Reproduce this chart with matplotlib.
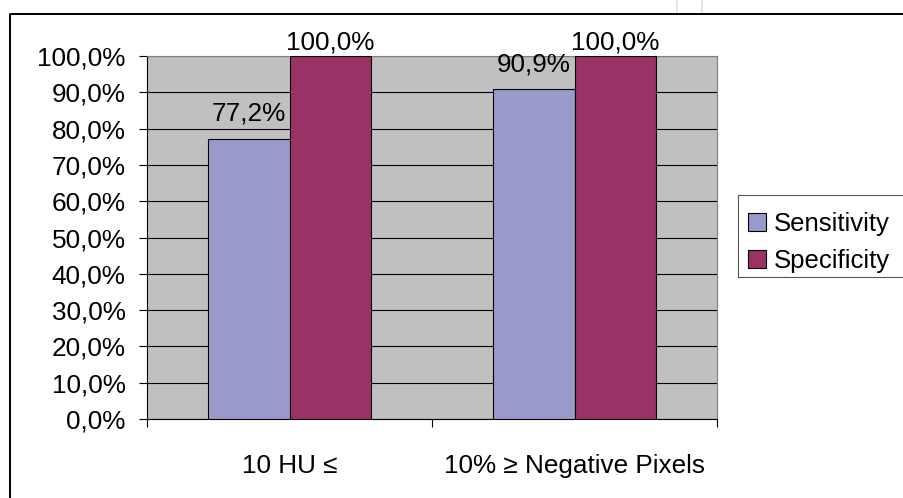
import numpy as np
import matplotlib
matplotlib.use("Agg")
import matplotlib.pyplot as plt
from matplotlib.patches import Patch, Rectangle
from matplotlib.lines import Line2D
from matplotlib.ticker import FixedLocator

plt.rcParams['font.family'] = ['Liberation Sans', 'DejaVu Sans']

categories = ['10 HU \u2264', '10% \u2265 Negative Pixels']
series_names = ['Sensitivity', 'Specificity']
sensitivity = [77.2, 90.9]
specificity = [100.0, 100.0]
y_ticks = [0, 10, 20, 30, 40, 50, 60, 70, 80, 90, 100]

W, H = 904, 498
FS = 18.8
LFS = 18.5
fig = plt.figure(figsize=(W / 100, H / 100), dpi=100)
ax = fig.add_axes([147 / W, 1 - 419 / H, 570 / W, 363 / H])

x = np.arange(len(categories))
bw = 0.286
colors = ['#9999CC', '#993366']
for i, (vals, col) in enumerate(zip([sensitivity, specificity], colors)):
    pos = x + (i - 0.5) * bw
    ax.bar(pos, vals, bw, color=col, edgecolor='black', linewidth=0.8, zorder=3)
    for px, v in zip(pos, vals):
        off = 7 if v >= 100 else 18
        ax.annotate(f"{v:.1f}%".replace('.', ','), (px, v), xytext=(0, off),
                    textcoords='offset pixels', ha='center', va='baseline',
                    fontsize=FS, zorder=5, annotation_clip=False)

ax.set_xlim(-0.5, len(categories) - 0.5)
ax.set_ylim(0, 100)
ax.set_facecolor('#C0C0C0')
ax.set_yticks(y_ticks)
ax.set_yticklabels([f"{v:.1f}%".replace('.', ',') for v in y_ticks])
ax.yaxis.grid(True, color='black', linewidth=0.8, zorder=1)
ax.set_axisbelow(True)

ax.set_xticks(x)
ax.set_xticklabels(categories)
ax.xaxis.set_minor_locator(FixedLocator(np.arange(len(categories) + 1) - 0.5))
ax.tick_params(axis='x', which='major', length=0, pad=25, labelsize=FS)
ax.tick_params(axis='x', which='minor', length=5.8, width=0.8, direction='out', color='black')
ax.tick_params(axis='y', which='major', length=5.8, width=0.8, direction='out', pad=9.5,
               labelsize=FS, color='black')

for s in ['left', 'bottom']:
    ax.spines[s].set_color('black')
    ax.spines[s].set_linewidth(0.8)
for s in ['top', 'right']:
    ax.spines[s].set_color('#808080')
    ax.spines[s].set_linewidth(0.8)

handles = [Patch(facecolor=c, edgecolor='black', linewidth=0.8) for c in colors]
fig.legend(handles, series_names, loc='upper left',
           bbox_to_anchor=(748 / W, 1 - 212 / H), frameon=False, fontsize=LFS,
           borderpad=0, handlelength=0.7, handleheight=0.7, handletextpad=0.3,
           labelspacing=0.51, borderaxespad=0)
fig.add_artist(Rectangle((738 / W, 1 - 277 / H), (910 - 738) / W, 82 / H,
                         transform=fig.transFigure, fill=False, edgecolor='#555555',
                         linewidth=0.8, clip_on=False))

# outer chart frame (cropped at right and bottom)
fig.add_artist(Line2D([10 / W, 10 / W, 1.01], [-0.01, 1 - 14 / H, 1 - 14 / H],
                      transform=fig.transFigure, color='black', linewidth=1.4))
for xx in [677, 702]:
    fig.add_artist(Line2D([xx / W, xx / W], [1 - 12 / H, 1.0], transform=fig.transFigure,
                          color='#e4e4e4', linewidth=1.4))

fig.savefig('out.png', dpi=100)
